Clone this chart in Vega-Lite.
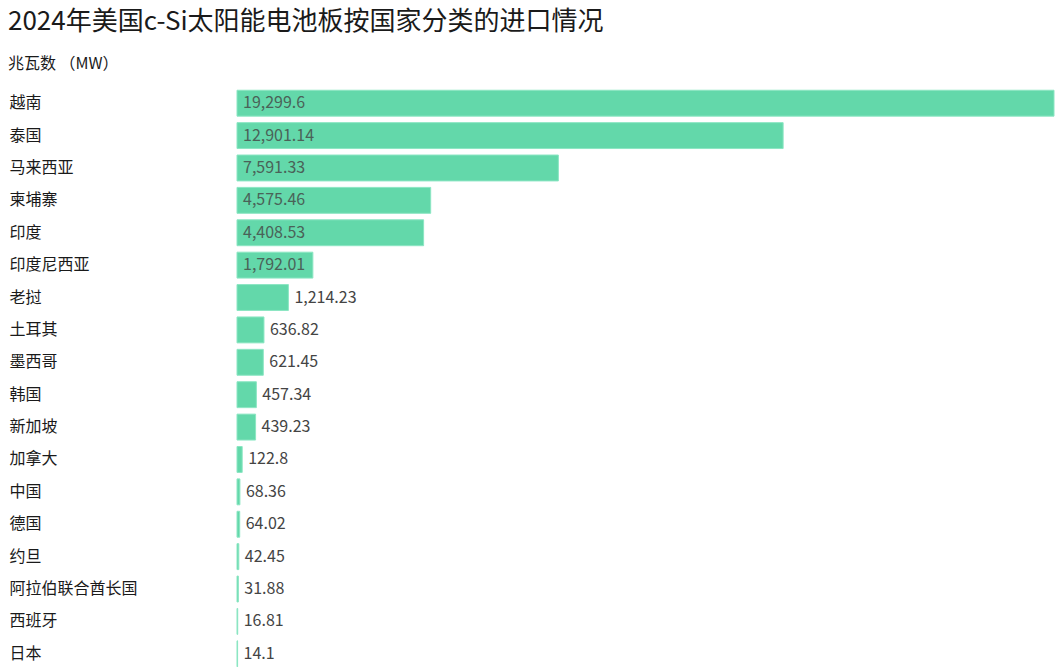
{
  "$schema": "https://vega.github.io/schema/vega-lite/v6.json",
  "width": 817,
  "height": 583,
  "padding": {"left": 8, "right": 6, "top": 9, "bottom": 0},
  "background": "white",
  "title": {
    "text": "2024年美国c-Si太阳能电池板按国家分类的进口情况",
    "subtitle": "兆瓦数 （MW）",
    "anchor": "start",
    "frame": "bounds",
    "offset": 15,
    "dx": -1,
    "font": "Noto Sans CJK SC",
    "fontSize": 26,
    "fontWeight": "normal",
    "color": "#1a1a1a",
    "subtitleFont": "Noto Sans CJK SC",
    "subtitleFontSize": 16,
    "subtitleColor": "#1a1a1a",
    "subtitlePadding": 21
  },
  "config": {
    "view": {"stroke": null},
    "font": "Noto Sans CJK SC"
  },
  "data": {
    "values": [
      {"country": "越南", "mw": 19299.6},
      {"country": "泰国", "mw": 12901.14},
      {"country": "马来西亚", "mw": 7591.33},
      {"country": "柬埔寨", "mw": 4575.46},
      {"country": "印度", "mw": 4408.53},
      {"country": "印度尼西亚", "mw": 1792.01},
      {"country": "老挝", "mw": 1214.23},
      {"country": "土耳其", "mw": 636.82},
      {"country": "墨西哥", "mw": 621.45},
      {"country": "韩国", "mw": 457.34},
      {"country": "新加坡", "mw": 439.23},
      {"country": "加拿大", "mw": 122.8},
      {"country": "中国", "mw": 68.36},
      {"country": "德国", "mw": 64.02},
      {"country": "约旦", "mw": 42.45},
      {"country": "阿拉伯联合酋长国", "mw": 31.88},
      {"country": "西班牙", "mw": 16.81},
      {"country": "日本", "mw": 14.1}
    ]
  },
  "encoding": {
    "y": {
      "field": "country",
      "type": "nominal",
      "sort": null,
      "scale": {"paddingInner": 0.2, "paddingOuter": 0.1},
      "axis": {
        "title": null,
        "ticks": false,
        "domain": false,
        "labelAlign": "left",
        "labelPadding": 228,
        "labelFontSize": 16,
        "labelColor": "#1a1a1a",
        "labelFont": "Noto Sans CJK SC"
      }
    }
  },
  "layer": [
    {
      "mark": {"type": "bar", "color": "#63d8aa", "stroke": "#8ce6c3", "strokeWidth": 1},
      "encoding": {
        "x": {
          "field": "mw",
          "type": "quantitative",
          "scale": {"domain": [0, 19299.6], "nice": false},
          "axis": null
        }
      }
    },
    {
      "transform": [{"filter": "datum.mw >= 1500"}],
      "mark": {"type": "text", "align": "left", "dx": 6, "fontSize": 16, "color": "#4a6258", "font": "Noto Sans CJK SC"},
      "encoding": {
        "x": {"datum": 0, "type": "quantitative"},
        "text": {"field": "mw", "type": "quantitative", "format": ","}
      }
    },
    {
      "transform": [{"filter": "datum.mw < 1500"}],
      "mark": {"type": "text", "align": "left", "dx": 6, "fontSize": 16, "color": "#444444", "font": "Noto Sans CJK SC"},
      "encoding": {
        "x": {"field": "mw", "type": "quantitative"},
        "text": {"field": "mw", "type": "quantitative", "format": ","}
      }
    }
  ]
}
